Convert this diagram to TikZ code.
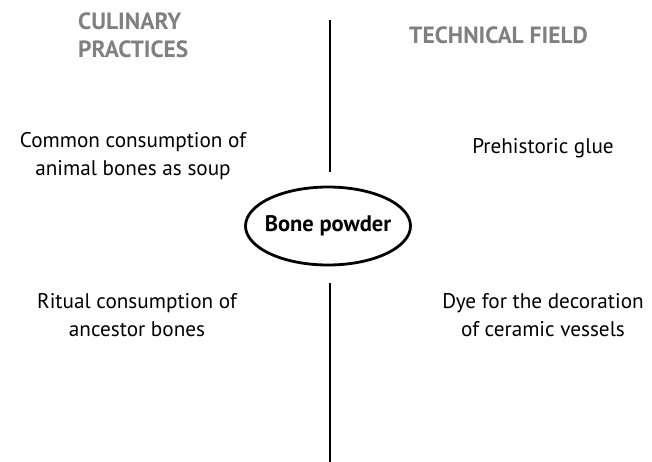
\documentclass[tikz,border=0pt]{standalone}
\usepackage{fontspec}
\setmainfont{PT Sans}
\usepackage{tikz}
\usetikzlibrary{shapes.geometric}

\begin{document}
\begin{tikzpicture}[x=1pt,y=1pt,
head/.style={font=\fontsize{23.5}{28}\selectfont\bfseries, text=black!50, align=left, inner sep=0pt},
item/.style={font=\fontsize{21.2}{28}\selectfont, align=center, inner sep=0pt},
hub/.style={ellipse, draw, line width=2.8pt, minimum width=165pt, minimum height=78pt, inner xsep=-14pt, inner ysep=0pt, font=\fontsize{22.5}{24}\selectfont\bfseries},
axis/.style={line width=2.2pt} ]

\useasboundingbox (0,0) rectangle (652,-462);

\node[head,anchor=north west](culinary) at (78,-13) {CULINARY\\PRACTICES};

\node[head,anchor=north west](technical) at (409,-27) {TECHNICAL FIELD};

\node[hub](bone) at (328,-226) {Bone powder};

\node[item](soup) at (133,-156) {Common consumption of\\animal bones as soup};

\node[item](glue) at (543,-148) {Prehistoric glue};

\node[item](ritual) at (137,-315) {Ritual consumption of\\ancestor bones};

\node[item](dye) at (543,-315) {Dye for the decoration\\of ceramic vessels};

\coordinate (top) at (330,-20);
\coordinate (bottom) at (330,-462);

\draw[axis, shorten >=14pt] (top) -- (top |- bone.north);

\draw[axis, shorten <=17pt] (bottom |- bone.south) -- (bottom);

\end{tikzpicture}
\end{document}
